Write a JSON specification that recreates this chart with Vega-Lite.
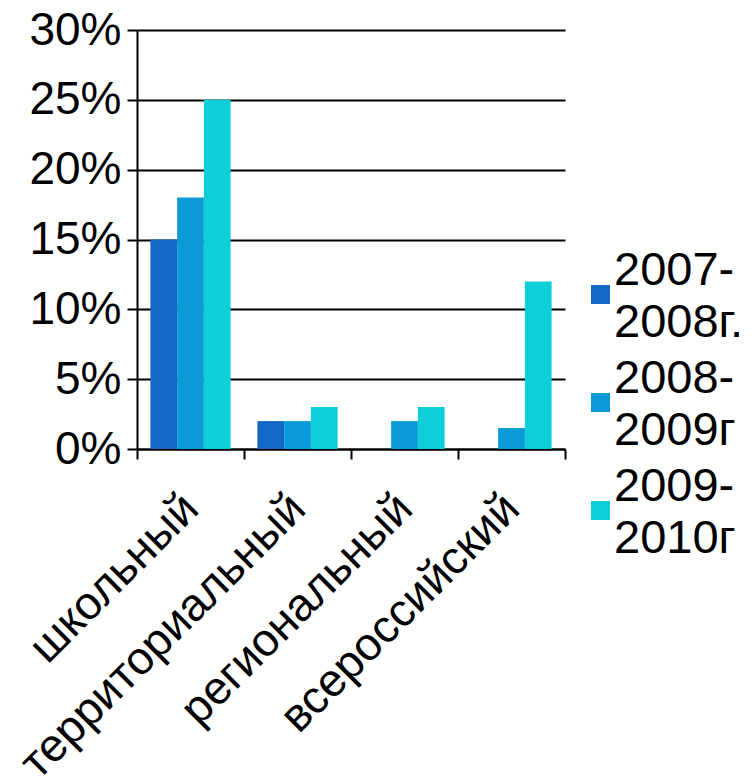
{
  "$schema": "https://vega.github.io/schema/vega-lite/v6.json",
  "autosize": "none",
  "padding": {"left": 137, "top": 30, "right": 191, "bottom": 330},
  "width": 428,
  "height": 419,
  "background": "white",
  "data": {
    "values": [
      {"level": "школьный", "year": "2007-|2008г.", "share": 0.15},
      {"level": "школьный", "year": "2008-|2009г", "share": 0.18},
      {"level": "школьный", "year": "2009-|2010г", "share": 0.25},
      {"level": "территориальный", "year": "2007-|2008г.", "share": 0.02},
      {"level": "территориальный", "year": "2008-|2009г", "share": 0.02},
      {"level": "территориальный", "year": "2009-|2010г", "share": 0.03},
      {"level": "региональный", "year": "2007-|2008г.", "share": 0},
      {"level": "региональный", "year": "2008-|2009г", "share": 0.02},
      {"level": "региональный", "year": "2009-|2010г", "share": 0.03},
      {"level": "всероссийский", "year": "2007-|2008г.", "share": 0},
      {"level": "всероссийский", "year": "2008-|2009г", "share": 0.015},
      {"level": "всероссийский", "year": "2009-|2010г", "share": 0.12}
    ]
  },
  "mark": {"type": "bar"},
  "encoding": {
    "x": {
      "field": "level",
      "type": "nominal",
      "sort": null,
      "title": null,
      "scale": {"paddingInner": 0, "paddingOuter": 0},
      "axis": {
        "labelAngle": -45,
        "labelAlign": "right",
        "labelBaseline": "middle",
        "labelPadding": 42,
        "labelOffset": 0,
        "labelFontSize": 46,
        "labelLimit": 600,
        "tickBand": "extent",
        "tickSize": 10,
        "tickWidth": 2
      }
    },
    "xOffset": {
      "field": "year",
      "type": "nominal",
      "sort": null,
      "scale": {"paddingInner": 0, "paddingOuter": 0.5}
    },
    "y": {
      "field": "share",
      "type": "quantitative",
      "title": null,
      "scale": {"domain": [0, 0.3], "nice": false},
      "axis": {
        "values": [0, 0.05, 0.1, 0.15, 0.2, 0.25, 0.3],
        "format": ".0%",
        "grid": true,
        "gridColor": "black",
        "gridOpacity": 1,
        "gridWidth": 2,
        "tickSize": 10,
        "tickWidth": 2,
        "labelPadding": 6,
        "labelFontSize": 46
      }
    },
    "color": {
      "field": "year",
      "type": "nominal",
      "sort": null,
      "scale": {"range": ["#1467c4", "#0a9ad8", "#0ecfd8"]},
      "legend": {
        "title": null,
        "orient": "none",
        "legendX": 440,
        "legendY": 241,
        "labelExpr": "split(datum.label, '|')",
        "labelFontSize": 47,
        "labelBaseline": "bottom",
        "labelLimit": 300,
        "symbolType": "square",
        "symbolSize": 361,
        "symbolStrokeWidth": 0,
        "symbolOpacity": 1,
        "labelOffset": -10,
        "rowPadding": 8
      }
    }
  },
  "config": {
    "font": "Liberation Sans",
    "view": {"stroke": null},
    "style": {"guide-label": {"lineHeight": 52}},
    "axis": {
      "domainColor": "black",
      "domainWidth": 2,
      "tickColor": "black",
      "labelColor": "black",
      "labelFont": "Liberation Sans"
    },
    "legend": {"labelColor": "black", "labelFont": "Liberation Sans"}
  }
}
